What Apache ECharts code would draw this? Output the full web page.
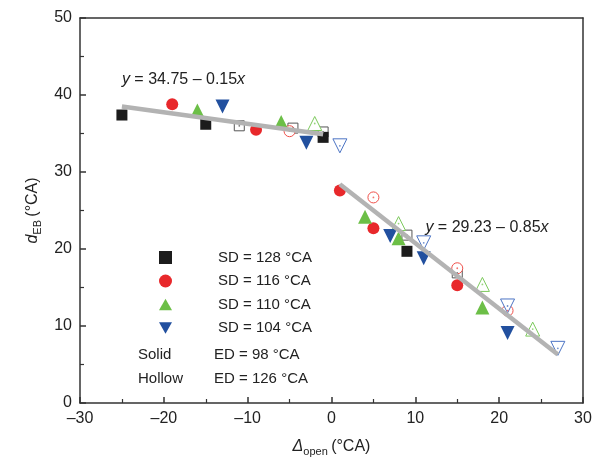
<!DOCTYPE html>
<html><head><meta charset="utf-8">
<script src="https://cdn.jsdelivr.net/npm/echarts@6/dist/echarts.min.js"></script>
<style>html,body{margin:0;padding:0;background:#fff}#c{width:604px;height:462px}</style>
</head><body><div id="c"></div>
<script>
// ---- data ----
const seriesNames = ['SD = 128 °CA', 'SD = 116 °CA', 'SD = 110 °CA', 'SD = 104 °CA'];
const sd128Solid = [[-25,37.4],[-15,36.2],[-1,34.5],[9,19.7]];
const sd128Hollow = [[-11,36.0],[-4.6,35.7],[-1,35.2],[9,21.8],[15,16.9]];
const sd116Solid = [[-19,38.8],[-9,35.5],[1,27.6],[5,22.7],[15,15.3]];
const sd116Hollow = [[-5,35.3],[5,26.7],[15,17.5],[21,12.0]];
const sd110Solid = [[-16,38.0],[-6,36.5],[4,24.2],[8,21.4],[18,12.4]];
const sd110Hollow = [[-2,36.3],[8,23.3],[18,15.4],[24,9.6]];
const sd104Solid = [[-13,38.5],[-3,33.8],[7,21.7],[11,18.8],[21,9.1]];
const sd104Hollow = [[1,33.4],[11,20.8],[21,12.6],[27,7.1]];
const fitUpper = [[-25,38.5],[-1,34.9]];
const fitLower = [[1,28.4],[27,6.3]];
const eqUpper = ['y', ' = 34.75 – 0.15', 'x'];
const eqLower = ['y', ' = 29.23 – 0.85', 'x'];
const extraLegend = [['Solid', 'ED = 98 °CA'], ['Hollow', 'ED = 126 °CA']];

// ---- styling ----
const FONT = 'Liberation Sans, Arial, sans-serif';
const cBlack = '#1c1c1c', cRed = '#e8282b', cGreen = '#6cbf47', cBlue = '#22509f';
const hBlack = '#555555', hRed = '#f0504a', hGreen = '#7cc95c', hBlue = '#4c74c4';
const DOWN = 'path://M0,0 L12,0 L6,10.4 Z';
const UP = 'path://M6,0 L12,10.4 L0,10.4 Z';

function solid(name, data, symbol, size, color) {
  return {type:'scatter', name, data, symbol, symbolSize:size, z:3,
    itemStyle:{color, opacity:1}};
}
function hollow(data, symbol, size, color) {
  return {type:'scatter', data, symbol, symbolSize:size, z:3,
    itemStyle:{color:'#fff', borderColor:color, borderWidth:1, opacity:1}};
}
function dots(data, color) {
  return {type:'scatter', data, symbol:'circle', symbolSize:1.8, z:4, silent:true,
    itemStyle:{color}};
}
function fit(data) {
  return {type:'line', data, symbol:'none', z:5, silent:true,
    lineStyle:{color:'#b3b3b3', width:4.5}};
}

const chart = echarts.init(document.getElementById('c'), null, {renderer:'canvas'});
const axisLine = {show:true, onZero:false, lineStyle:{color:'#333', width:1.5}};
const nameRich = {
  d:{fontFamily:FONT, fontSize:16, fontStyle:'italic', color:'#222'},
  s:{fontFamily:FONT, fontSize:11, color:'#222', verticalAlign:'bottom', padding:[10,0,0,0]},
  n:{fontFamily:FONT, fontSize:16, color:'#222'}};
chart.setOption({
  animation:false,
  backgroundColor:'#fff',
  grid:{left:80, right:21, top:18, bottom:54},
  textStyle:{fontFamily:FONT},
  legend:{
    orient:'vertical', left:154, top:245, itemWidth:13, itemHeight:13, itemGap:8.5,
    data: seriesNames,
    textStyle:{fontFamily:FONT, fontSize:15, color:'#222', padding:[0,0,0,41]},
    selectedMode:false
  },
  xAxis:[{
    type:'value', min:-30, max:30, interval:10, position:'bottom',
    axisLine, axisTick:{show:true, inside:true, length:6, lineStyle:{color:'#333', width:1.5}},
    minorTick:{show:true, splitNumber:2, length:4, lineStyle:{color:'#333', width:1.2}},
    splitLine:{show:false},
    axisLabel:{fontFamily:FONT, fontSize:16, color:'#222', margin:8,
      formatter:v => v < 0 ? '–' + Math.abs(v) : String(v)},
    name:'{d|Δ}{s|open} {n|(°CA)}', nameLocation:'middle', nameGap:33,
    nameTextStyle:{rich:nameRich}
  },{
    type:'value', position:'top', min:-30, max:30, axisLine, axisTick:{show:false},
    axisLabel:{show:false}, splitLine:{show:false}
  }],
  yAxis:[{
    type:'value', min:0, max:50, interval:10, position:'left',
    axisLine, axisTick:{show:true, inside:true, length:6, lineStyle:{color:'#333', width:1.5}},
    minorTick:{show:true, splitNumber:2, length:4, lineStyle:{color:'#333', width:1.2}},
    splitLine:{show:false},
    axisLabel:{fontFamily:FONT, fontSize:16, color:'#222', margin:8},
    name:'{d|d}{s|EB} {n|(°CA)}', nameLocation:'middle', nameGap:37, nameRotate:90,
    nameTextStyle:{rich:nameRich}
  },{
    type:'value', position:'right', min:0, max:50, axisLine, axisTick:{show:false},
    axisLabel:{show:false}, splitLine:{show:false}
  }],
  series:[
    hollow(sd128Hollow, 'rect', 10, hBlack), dots(sd128Hollow, hBlack),
    hollow(sd116Hollow, 'circle', 11, hRed), dots(sd116Hollow, hRed),
    hollow(sd110Hollow, UP, 14, hGreen), dots(sd110Hollow, hGreen),
    hollow(sd104Hollow, DOWN, 14, hBlue), dots(sd104Hollow, hBlue),
    solid(seriesNames[0], sd128Solid, 'rect', 11, cBlack),
    solid(seriesNames[1], sd116Solid, 'circle', 12, cRed),
    solid(seriesNames[2], sd110Solid, UP, 14, cGreen),
    solid(seriesNames[3], sd104Solid, DOWN, 14, cBlue),
    fit(fitUpper), fit(fitLower)
  ]
});

// equation labels and text-only legend rows, positioned through the chart's scales
function eq(parts, x, y) {
  const p = chart.convertToPixel({gridIndex:0}, [x, y]);
  return {type:'text', left:p[0], top:p[1] - 10, z:10, style:{
    text:'{i|' + parts[0] + '}{n|' + parts[1] + '}{i|' + parts[2] + '}',
    rich:{i:{fontFamily:FONT, fontSize:16, fontStyle:'italic', fill:'#222'},
          n:{fontFamily:FONT, fontSize:16, fill:'#222'}}}};
}
const graphics = [eq(eqUpper, -25, 41.7), eq(eqLower, 11.2, 22.5)];
extraLegend.forEach((row, i) => {
  const top = 347 + i * 24;
  graphics.push({type:'text', left:138, top, style:{text:row[0], font:'15px ' + FONT, fill:'#222'}});
  graphics.push({type:'text', left:214, top, style:{text:row[1], font:'15px ' + FONT, fill:'#222'}});
});
chart.setOption({graphic:graphics});
</script></body></html>
